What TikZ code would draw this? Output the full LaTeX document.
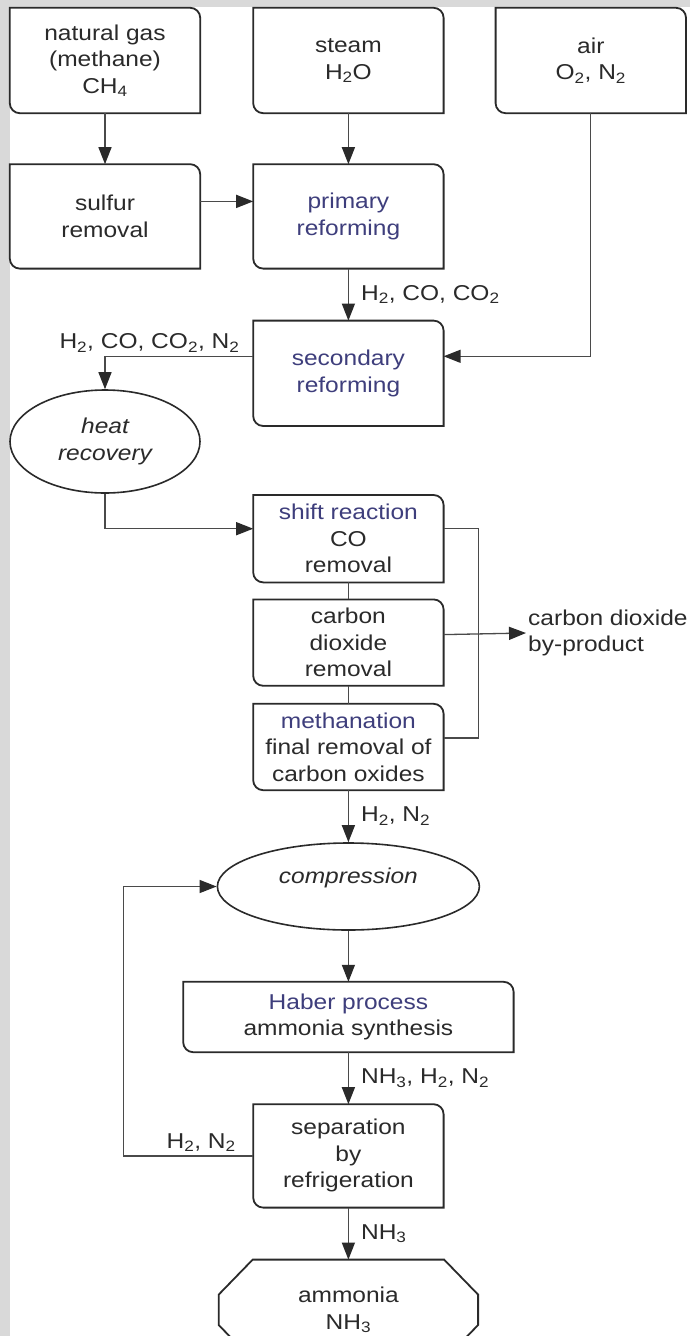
\documentclass[tikz,border=0pt]{standalone}
\usepackage{fontspec}
\setmainfont{Liberation Sans}[FakeStretch=1.14]
\usetikzlibrary{shapes.geometric, arrows.meta, positioning}

\definecolor{procblue}{RGB}{62,62,124}
\definecolor{ink}{RGB}{42,42,42}
\definecolor{framegray}{RGB}{217,217,217}

\tikzset{
	box/.style={minimum width=190pt, minimum height=105pt, align=center, inner sep=0pt},
	proc/.style={text=procblue},
	oval/.style={ellipse, draw=ink, line width=1.6pt, align=center, inner sep=0pt, font=\fontsize{21.5}{26.5}\selectfont\itshape},
	outline/.style={draw=ink, line width=1.8pt},
	pipe/.style={draw=ink!85, line width=1.3pt},
	flow/.style={pipe, -{Triangle[length=17pt, width=13pt, color=ink]}},
	lbl/.style={right, inner xsep=12pt}
}

\begin{document}
\begin{tikzpicture}[x=1pt, y=-1pt, font=\fontsize{21.5}{26.5}\selectfont, text=ink]

	\useasboundingbox (0,0) rectangle (690,1336);
	\clip (0,0) rectangle (690,1336);
	\fill[framegray] (0,0) rectangle (690,1336);
	\fill[white] (10,7) rectangle (690,1336);

	% feed boxes
	\node[box] (gas) at (105,60.5) {natural gas\\(methane)\\CH\textsubscript{4}};
	\node[box, right=53pt of gas] (steam) {steam\\H\textsubscript{2}O};
	\node[box, right=52pt of steam] (air) {air\\O\textsubscript{2}, N\textsubscript{2}};

	% reforming
	\node[box, below=51pt of gas, minimum height=104pt] (sulfur) {sulfur\\removal};
	\node[box, below=51pt of steam, minimum height=104pt, proc] (primary) {primary\\reforming};
	\node[box, below=52pt of primary, proc] (secondary) {secondary\\reforming};
	\node[oval, minimum width=190pt, minimum height=103pt] (heat) at (105,441.5) {heat\\recovery};

	% gas cleaning
	\node[box, below=69pt of secondary, minimum height=87pt] (shift) {{\color{procblue}shift reaction}\\CO\\removal};
	\node[box, below=17pt of shift, minimum height=86pt] (cdr) {carbon\\dioxide\\removal};
	\node[box, below=18pt of cdr, minimum height=86pt] (meth) {{\color{procblue}methanation}\\final removal of\\carbon oxides};
	\node[anchor=west, align=left, inner sep=2pt] (co2) at (526,633) {carbon dioxide\\by-product};

	% synthesis loop
	\node[oval, below=52pt of meth, minimum width=262pt, minimum height=87pt, text height=16pt, text depth=22pt] (comp) {compression};
	\node[box, below=51pt of comp, minimum width=330pt, minimum height=70pt] (haber) {{\color{procblue}Haber process}\\ammonia synthesis};
	\node[box, below=52pt of haber, minimum height=103pt] (sep) {separation\\by\\refrigeration};
	\node[box, below=52pt of sep, minimum width=259pt, minimum height=100pt] (ammonia) {ammonia\\NH\textsubscript{3}};

	\foreach \n in {gas,steam,air,sulfur,primary,secondary,shift,cdr,meth,haber,sep}
		\draw[outline] (\n.north west) -- ([xshift=-10pt]\n.north east)
			arc[start angle=90, end angle=0, radius=10pt] -- (\n.south east)
			-- ([xshift=10pt]\n.south west) arc[start angle=270, end angle=180, radius=10pt] -- cycle;

	\draw[outline] ([xshift=34pt]ammonia.north west) -- ([xshift=-34pt]ammonia.north east)
		-- ([yshift=-35pt]ammonia.north east) -- ([yshift=35pt]ammonia.south east)
		-- ([xshift=-34pt]ammonia.south east) -- ([xshift=34pt]ammonia.south west)
		-- ([yshift=35pt]ammonia.south west) -- ([yshift=-35pt]ammonia.north west) -- cycle;

	\draw[flow] (gas) -- (sulfur);
	\draw[flow] (steam) -- (primary);
	\draw[flow] ([yshift=15pt]sulfur.east) -- ([yshift=15pt]primary.west);
	\draw[flow] (primary) -- node[lbl] {H\textsubscript{2}, CO, CO\textsubscript{2}} (secondary);
	\draw[flow] (air) |- ([yshift=17pt]secondary.east);
	\draw[flow] ([yshift=17pt]secondary.west) -| node[above, pos=0.35] {H\textsubscript{2}, CO, CO\textsubscript{2}, N\textsubscript{2}} (heat.north);
	\draw[flow] (heat.south) |- ([yshift=10pt]shift.west);

	\draw[pipe] (shift) -- (cdr);
	\draw[pipe] (cdr) -- (meth);
	\draw[pipe] ([yshift=10pt]shift.east) -- ++(35pt,0) |- ([yshift=9pt]meth.east);
	\draw[flow] ([yshift=8pt]cdr.east) -- (co2.west);

	\draw[flow] (meth) -- node[lbl] {H\textsubscript{2}, N\textsubscript{2}} (comp);
	\draw[flow] (comp) -- (haber);
	\draw[flow] (haber) -- node[lbl] {NH\textsubscript{3}, H\textsubscript{2}, N\textsubscript{2}} (sep);
	\draw[flow] (sep.west) -- node[above, pos=0.4] {H\textsubscript{2}, N\textsubscript{2}} ++(-130pt,0) |- (comp.west);
	\draw[flow] (sep) -- node[lbl] {NH\textsubscript{3}} (ammonia);

\end{tikzpicture}
\end{document}
